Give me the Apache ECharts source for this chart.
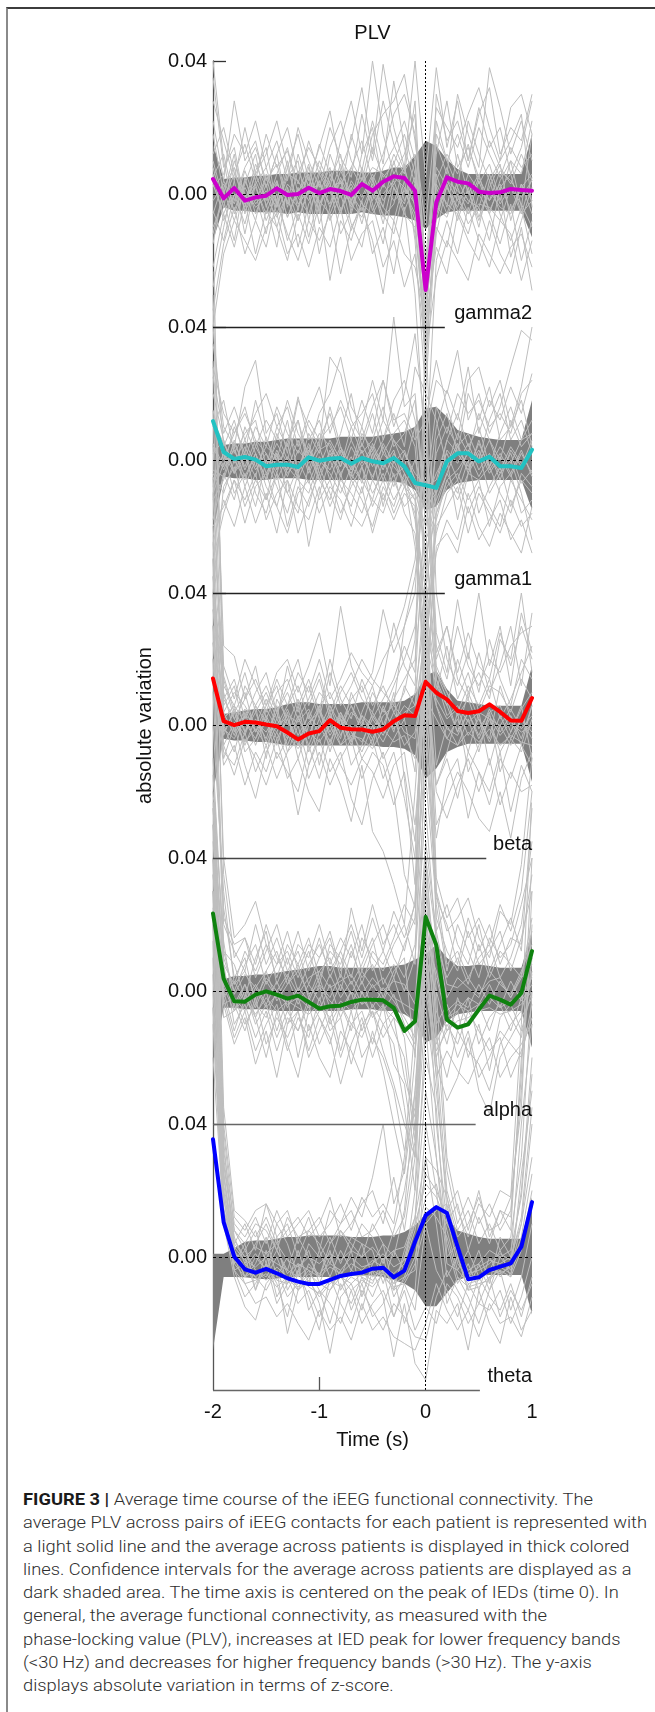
<!DOCTYPE html>
<html><head><meta charset="utf-8">
<script src="https://cdn.jsdelivr.net/npm/echarts@6/dist/echarts.min.js"></script>
<style>
html,body{margin:0;padding:0;background:#fff;}
#wrap{position:relative;width:655px;height:1712px;overflow:hidden;background:#fff;}
#frame{position:absolute;left:6px;top:7px;width:700px;height:1800px;border-top:2px solid #3c3c3c;border-left:2px solid #8a8a8a;}
#chart{position:absolute;left:0;top:0;width:655px;height:1470px;}
#caption{position:absolute;left:23px;top:1488px;font-family:Roboto,'Liberation Sans',Arial,sans-serif;font-weight:300;font-size:16.5px;line-height:23.3px;color:#2e2e2e;white-space:nowrap;transform-origin:0 0;}
#caption b{color:#1a1a1a;font-weight:700;}
</style></head><body>
<div id="wrap"><div id="frame"></div><div id="chart"></div><div id="caption"></div></div>
<script>
// ---------- DATA (values in units of 0.001 absolute variation) ----------
const UNIT = 0.001;
const times = [-2.0,-1.9,-1.8,-1.7,-1.6,-1.5,-1.4,-1.3,-1.2,-1.1,-1.0,-0.9,-0.8,-0.7,-0.6,-0.5,-0.4,-0.3,-0.2,-0.1,0.0,0.1,0.2,0.3,0.4,0.5,0.6,0.7,0.8,0.9,1.0];
const bands = ['gamma2','gamma1','beta','alpha','theta'];
const xTicks = [-2,-1,0,1];
const yTicks = [0,0.04];

const gamma2Mean = [4.5,-1.3,1.8,-2,-1,-0.5,1.7,-0.3,0,1.9,0.3,1.5,0.9,-0.3,3,1,3.7,5.3,4.8,1,-28.9,-2.5,5,3.7,3.2,0.7,0.3,0.5,1.5,1.2,1];
const gamma1Mean = [11.7,2.4,0.3,0.9,0.1,-1.9,-1.4,-1.4,-2.1,0.8,-0.2,0.4,0.6,-1.1,0.6,-0.4,-1,0.6,-1.9,-6.9,-7.6,-8.4,-0.4,2,2,-0.4,1,-1.9,-1.9,-2.4,3.1];
const betaMean = [14.2,1.3,0.1,1.1,0.9,0.3,-0.2,-2.1,-4.2,-2.4,-1.7,1.6,-0.7,-1.1,-1.2,-1.9,-1.2,1.3,3.1,2.9,13.2,9.9,7.9,4.4,3.8,4.3,6.4,4.1,1.5,1.4,8.3];
const alphaMean = [23.3,3.7,-3.1,-3.2,-1.1,-0.1,-1.1,-2.3,-1.4,-3.3,-5.3,-4.6,-4.4,-3.3,-2.6,-2.6,-2.8,-5.1,-12,-9.1,22.3,13.8,-8.6,-11,-10,-5.6,-1.4,-2.6,-4.1,-0.6,12];
const thetaMean = [35.4,10.5,0.1,-3.7,-4.7,-3.6,-4.9,-6.4,-7.4,-8.1,-8.1,-6.9,-5.7,-5.1,-4.7,-3.5,-3.2,-6.1,-4.1,4.6,12.5,15,13.2,3.1,-6.7,-6.1,-3.9,-2.9,-1.9,3.1,16.5];

const gamma2Upper = [15,4.5,5,5,5.5,5.5,6,6,6.5,6.5,6.5,7,7,7,6.5,6.5,7,8,8,11.4,16,14.4,10.4,7.5,6,6,6,6,6,6,18];
const gamma2Lower = [-14,-4,-5,-5,-5.5,-5.5,-5.5,-6,-5.5,-6,-6,-6,-6,-6,-5.5,-6,-6.5,-6.5,-7,-8,-10.5,-7.5,-5.5,-5,-5,-5,-5,-5,-5,-5,-13];
const gamma1Upper = [12,4.5,5,5,5.5,5.5,6,6.5,6.5,6.5,6.5,6.5,7,7,7,7,7.5,8,8.5,10,15.5,16,13,9,8,7,6.5,6,6,6,18];
const gamma1Lower = [-22,-5,-5.5,-5.5,-6,-6,-5.5,-5.5,-5.5,-6,-6,-6,-6,-6,-6,-6,-6.5,-6.5,-7,-9,-15,-14,-9,-7,-6.5,-6,-6,-6,-6,-6,-15];
const betaUpper = [14,3.5,4,4.5,5,5,5.5,6.5,7,7,6.5,6.5,6.5,6.5,7,7,7,7,7.5,9.5,15,16.5,11,7.5,7,6.5,6,6,6,6,18];
const betaLower = [-20,-4,-4.5,-4.5,-5,-5,-5.5,-6,-6,-6,-6,-6,-6,-6,-6,-6,-6.5,-6.5,-7,-9,-16,-13,-8,-6.5,-5.5,-5.5,-5.5,-5.5,-5.5,-5.5,-17];
const alphaUpper = [20,3.5,4.5,4.5,5,5,5.5,6,6.5,7,7.5,7.5,7,7,7,7,7,7.5,8,9.5,11,14,10,7.5,7.5,8,7.5,7,7,7,18];
const alphaLower = [-22,-5,-5,-5.5,-5.5,-5.5,-6,-6,-6,-6,-6,-6,-6,-5.5,-5.5,-5.5,-6,-6,-7,-9,-15.5,-14,-9,-7,-6.5,-6,-6,-6,-6,-6,-17];
const thetaUpper = [1,1,2.6,4.6,5,5,5.5,6,6,6.5,6.5,6.5,6.5,6,6,6,6.5,6.5,7.5,9.5,13,15.2,12,8,7,6,5.5,5.5,5.5,5.5,18];
const thetaLower = [-28,-6,-6,-6.1,-6.5,-6.7,-6.5,-6,-6,-6,-6,-6,-6,-5.6,-5.6,-5.6,-6,-6.9,-8,-10,-14.8,-14.8,-10.8,-7,-5.9,-5.6,-5.4,-5.4,-5.4,-5.4,-17.3];

const gamma2Patients = [
[35,8,14,-3,9,2,12,-4,7,0,10,3,-6,8,2,14,5,9,18,6,-55,4,12,6,15,3,9,-2,10,6,22],
[-28,-10,4,-12,3,-8,0,-14,-4,6,-9,2,-12,-5,8,-3,-15,2,-6,-10,-45,-12,3,-8,2,-10,4,-6,-14,-4,-18],
[12,20,6,15,4,18,8,13,3,16,6,20,11,5,24,10,28,15,7,12,-35,22,10,18,8,20,12,5,14,8,12],
[-10,-2,-14,5,-6,3,-10,1,-16,-3,4,-8,0,-11,-2,5,-7,-3,9,-14,-60,-6,2,-5,-12,0,-6,-15,-3,-20,-8],
[22,4,28,10,16,2,12,20,6,14,8,2,16,28,12,40,18,6,12,24,-45,30,16,22,10,26,14,20,6,14,28],
[-35,-15,-4,-18,-8,-16,-2,-12,-20,-8,-14,-6,-24,-10,-4,-14,-30,-8,-18,-22,-38,-16,-24,-6,-14,-20,-8,-18,-24,-10,-29],
[5,12,-2,8,14,4,9,-3,12,2,15,6,0,18,7,22,9,34,14,3,-25,12,28,8,14,5,16,8,3,12,4],
[-15,2,8,-5,0,-12,4,-7,2,-13,0,8,-5,2,-9,4,-4,10,-2,5,-50,-3,8,-2,4,-7,2,9,-8,3,-6],
[28,16,4,20,6,12,22,8,18,4,14,25,7,16,32,12,39,20,8,40,5,38,14,28,10,24,32,12,20,16,30],
[-22,-6,-16,-2,-18,-5,-10,-20,-6,-15,-3,-26,-8,-14,-2,-18,-10,-24,-4,-30,-80,-20,-8,-18,-4,-14,-22,-8,-12,-26,-14],
[8,-4,10,0,-8,6,-2,10,-5,8,-3,4,12,-6,5,-2,8,14,22,10,-40,6,-4,12,0,6,-6,4,10,-4,18],
[40,10,-6,3,12,-4,6,14,0,9,-6,12,3,8,16,4,12,24,30,18,-20,15,6,30,18,8,38,26,12,22,10],
[-5,-14,0,-9,4,-3,-16,2,-8,1,-18,-4,4,-9,-16,0,-6,-12,2,-8,-42,-10,-16,0,-9,-4,-14,2,-19,-8,2],
[18,0,12,-6,7,14,-4,5,10,-8,6,0,9,-3,12,20,2,12,6,28,-30,18,10,2,22,12,4,10,16,24,-4],
[-40,-18,-8,-14,-20,-10,-6,-18,-12,-22,-10,-16,-4,-20,-12,-8,-22,-14,-28,-18,-48,-25,-14,-20,-26,-12,-18,-24,-16,-12,-22],
[2,6,18,12,22,8,16,4,20,10,2,14,22,10,4,18,24,28,36,16,-10,26,20,14,24,32,20,10,26,30,18],
[3,-6,2,-4,6,-2,4,-7,1,5,-3,2,-6,4,-1,6,-2,3,8,-4,-28,-6,4,1,-3,5,-2,3,-5,2,6],
[-6,4,-3,7,-2,5,-6,3,-1,-6,4,-4,5,-2,7,-5,3,-2,1,-6,-32,2,-6,4,-2,-4,6,-3,2,-6,-2],
[10,-2,6,-1,3,8,-3,6,4,-2,7,1,4,-4,3,8,6,2,-3,10,-22,8,2,-4,6,1,-2,7,4,-1,4],
[-12,1,-8,2,-4,-1,-7,0,-4,3,-2,-6,2,-3,-7,2,-4,-8,4,-12,-36,-4,-7,2,-6,-3,-4,-8,2,-3,-10],
[6,-8,0,-2,2,-6,3,-2,-8,2,-5,6,-1,3,-3,-6,0,4,-5,3,-26,3,-3,-6,1,-8,1,-4,-6,3,-2],
[-2,3,-5,4,-3,1,-4,8,-3,1,3,-3,7,0,-5,3,-9,5,2,-3,-18,-8,4,-2,-6,4,-5,2,6,-6,5]
];
const gamma1Patients = [
[20,6,-4,10,2,-6,8,0,12,-3,6,14,2,-5,8,3,12,6,-2,10,-30,-8,6,14,4,10,-2,8,16,6,12],
[-18,-4,-12,2,-10,-16,-4,-20,-8,-14,-2,-10,-18,-6,-12,-20,-8,-14,-4,-18,-45,-22,-10,-6,-16,-8,-14,-20,-6,-12,-18],
[35,10,4,22,30,8,14,2,18,10,4,31,26,12,6,16,24,10,20,38,8,24,20,33,12,20,8,16,28,39,36],
[-8,2,-10,-4,-14,0,-8,-16,-4,-26,-10,0,-8,-14,-2,-10,-4,-12,-6,-26,-60,-14,-4,-10,0,-16,-8,-2,-14,-6,-10],
[28,14,8,16,4,12,6,18,8,2,14,20,31,16,10,24,12,43,16,20,-15,10,21,12,28,8,18,12,22,14,26],
[-25,-12,-20,-8,-19,-10,-22,-6,-14,-18,-8,-22,-4,-16,-20,-12,-16,-6,-14,-10,-52,-28,-18,-24,-10,-20,-26,-16,-22,-28,-14],
[10,18,2,8,12,-2,10,4,19,6,12,0,8,20,4,14,2,8,12,4,-35,6,14,2,20,12,22,6,10,18,4],
[-12,-6,4,-8,0,-12,2,-10,-2,4,-6,-12,0,-4,-10,2,-14,0,-8,-16,-40,-10,0,-18,-4,2,-10,-4,0,-10,-24],
[40,4,12,0,10,4,16,8,2,12,6,10,16,6,18,8,24,12,14,6,12,30,16,6,24,28,16,24,10,22,40],
[-30,-16,-6,-19,-8,-4,-14,-22,-10,-6,-16,-8,-12,-20,-8,-22,-10,-18,-10,-14,-70,-26,-22,-28,-14,-24,-18,-12,-24,-18,-28],
[15,0,8,14,6,2,-4,6,12,0,8,4,-2,10,2,6,16,4,8,18,-20,2,10,4,8,0,12,20,6,12,2],
[-4,-10,0,-6,2,-8,-14,-2,-6,-10,0,-4,-10,-2,-6,-12,0,-8,2,-6,-28,-18,-6,-12,-4,-6,-2,-10,-16,-4,-8],
[25,8,16,6,14,20,10,16,4,14,22,8,18,10,14,20,6,18,24,12,-10,16,8,20,14,18,10,14,8,20,24],
[-20,-14,-6,-12,-4,-18,-10,-6,-22,-12,-4,-14,-6,-10,-16,-6,-12,-4,-16,-22,-55,-20,-14,-8,-22,-10,-16,-22,-12,-20,-16],
[5,-2,10,2,18,6,0,12,-4,8,2,16,4,-2,10,0,6,14,4,28,20,12,-2,8,2,14,6,0,12,4,8],
[-40,-8,-2,-14,-6,-12,-4,-10,-16,-2,-12,-6,-16,-8,-2,-14,-6,-16,-8,-12,-80,-16,-8,-4,-12,-6,-20,-8,-4,-16,-12],
[4,-3,5,-2,6,-4,2,-5,3,-1,4,-6,3,-3,5,-2,4,-5,-2,-8,-14,-10,3,-1,5,-3,2,-6,3,-2,6],
[-6,2,-4,4,-3,2,-6,1,-3,5,-4,2,-5,4,-2,3,-6,2,-4,-10,-20,-12,-4,4,-2,3,-4,1,-5,2,-4],
[12,5,-1,6,-2,4,1,-3,6,-4,3,5,-2,6,-1,4,-3,6,2,-4,-8,-6,6,2,-3,5,-2,4,-1,6,8],
[-10,-1,3,-5,2,-6,3,-4,0,-7,1,-3,4,-6,1,-5,2,-2,-6,-12,-24,-16,-6,-3,2,-5,1,-4,2,-7,-3],
[2,6,-4,1,-5,7,-3,5,-6,2,-6,3,-4,1,-7,5,-2,3,-8,0,-12,-4,2,-6,3,-1,6,-3,4,-1,2],
[-3,-5,6,-3,4,-2,5,-1,-4,3,-2,6,0,-4,3,-6,5,-1,3,-6,-16,-8,-2,5,-4,6,-3,2,-4,3,-5]
];
const betaPatients = [
[60,15,4,10,-2,6,12,0,8,-4,6,10,2,-6,4,12,0,8,14,20,55,18,10,4,12,6,14,2,8,16,24],
[30,-6,-15,-4,-10,-18,-8,-14,-20,-6,-16,-4,-12,-18,-10,-14,-22,-12,-8,-30,10,-18,-10,-22,-8,-14,-24,-10,-16,-6,-12],
[110,24,21,8,14,6,16,20,10,18,28,12,36,18,10,16,35,22,30,40,90,28,16,38,20,40,18,30,12,34,22],
[20,-10,0,-12,-22,-8,-2,-10,-27,-12,-4,-14,-8,-22,-30,-16,-8,-20,-45,-55,5,-34,-16,-10,-28,-14,-20,-8,-26,-12,-20],
[85,8,14,2,10,16,4,12,20,6,14,2,10,16,8,4,14,31,18,12,70,20,30,14,8,22,10,18,30,12,34],
[40,0,-8,4,-6,2,-10,-4,6,-8,0,-6,4,-2,-8,0,-10,-4,2,-14,40,6,-4,2,-8,4,-12,0,-6,2,-4],
[130,12,6,16,4,10,2,18,6,14,4,20,8,2,14,6,12,4,10,26,100,14,6,20,10,16,8,26,20,40,16],
[15,-12,-6,-18,-8,-14,-4,-16,-10,-20,-26,-10,-18,-29,-12,-32,-38,-48,-60,-20,25,-30,-22,-14,-20,-28,-32,-20,-34,-16,-8],
[70,6,12,-2,6,12,4,10,2,8,16,4,12,6,0,10,4,12,20,30,60,10,24,8,16,4,12,10,4,14,8],
[50,-2,4,-6,2,-4,6,-8,0,-12,-2,4,-6,0,-10,-4,-16,-8,-22,-40,35,-12,0,-6,2,-8,4,-14,-4,-8,2],
[95,18,8,20,12,4,14,6,16,10,20,8,14,22,16,12,20,26,36,50,85,24,14,30,18,12,20,16,24,28,30],
[25,-8,-12,-2,-14,-6,-16,-8,-4,-16,-8,-18,-10,-4,-16,-8,-12,-24,-14,-35,15,-20,-28,-18,-10,-20,-10,-24,-14,-20,-18],
[150,4,10,6,0,8,0,6,12,2,10,6,0,8,12,2,8,14,24,16,120,40,20,12,22,10,26,14,6,20,14],
[45,10,-2,12,6,-10,8,2,-6,4,-12,2,-4,10,2,-6,6,-2,12,6,45,16,8,-2,10,2,-4,12,2,-6,6],
[75,2,6,-8,-4,2,-6,4,-10,0,6,-8,2,-12,-6,4,-2,10,-16,-48,20,-18,-8,4,-14,-6,2,-8,-2,6,-10],
[35,14,2,8,18,2,10,14,4,12,2,16,6,12,20,14,10,6,30,45,75,22,30,16,28,18,14,28,18,30,20],
[40,4,-3,5,-2,3,-4,2,-5,1,4,-3,2,-5,3,-2,5,-1,4,6,25,12,6,-2,4,-3,5,-2,3,-4,6],
[30,-3,5,-2,4,-5,2,-4,3,-6,2,-5,3,-2,-5,2,-3,4,-2,-4,15,8,2,5,-3,2,-5,3,-4,2,-2],
[55,8,2,-3,6,1,-2,5,-3,3,-1,6,-3,4,1,-4,3,6,2,10,35,16,10,3,8,-1,4,6,-2,5,10],
[25,-6,1,-5,-1,-6,0,-3,-7,-2,-5,0,-6,-3,-4,-7,-1,-5,-3,-10,8,2,-4,-6,-2,-5,-1,-6,-3,-5,-6],
[45,2,6,1,-4,5,-1,3,1,5,-3,3,-1,6,-2,3,-2,1,6,3,30,14,3,6,1,4,2,0,5,-1,3],
[35,-1,-4,3,1,-2,4,-6,2,-3,5,-2,4,-4,3,0,-5,2,-6,-2,18,6,-1,-3,4,-4,3,-3,1,-2,0]
];
const alphaPatients = [
[90,25,4,10,-4,6,12,2,8,-2,6,10,0,12,4,8,-2,6,10,-20,80,30,8,12,4,10,14,4,10,20,45],
[50,8,-10,-4,-14,-6,-18,-8,-12,-4,-16,-8,-20,-10,-14,-6,-18,-28,-40,-50,20,-14,-26,-12,-18,-22,-30,-16,-10,-6,5],
[130,40,16,20,27,14,8,18,6,14,10,16,4,25,12,26,14,20,12,27,110,30,18,22,28,16,10,24,20,38,70],
[35,-4,-16,-8,-22,-12,-26,-10,-6,-18,-8,-14,-28,-16,-8,-20,-10,-16,-35,-60,15,-22,-33,-26,-14,-30,-37,-20,-14,-8,-2],
[110,12,8,-2,10,18,2,10,0,8,14,6,12,4,16,10,6,14,20,8,95,22,12,6,18,8,12,18,6,16,30],
[60,15,-6,2,-8,0,-12,-2,-20,-6,2,-10,-4,-12,0,-8,-4,-12,-20,-45,35,-10,-4,-12,-2,-16,-8,-4,-12,-2,10],
[80,30,2,12,6,14,4,14,8,16,4,12,8,18,6,14,20,10,4,14,65,26,6,20,12,4,16,10,14,26,40],
[40,-2,-14,-6,-18,-10,-4,-16,-26,-10,-20,-26,-12,-18,-26,-12,-24,-40,-55,-30,10,-26,-18,-24,-28,-20,-14,-26,-20,-16,-10],
[120,20,12,6,20,8,16,6,12,2,10,18,6,14,2,12,8,16,26,20,120,18,26,14,8,20,6,14,22,12,55],
[45,2,-4,-12,-2,-16,-8,-14,-6,-20,-12,-4,-18,-6,-20,-14,-20,-30,-48,-35,25,-16,-8,-20,-12,-26,-20,-12,-16,-20,-4],
[100,22,14,16,8,20,10,4,14,10,20,8,16,10,20,6,12,4,14,22,75,28,20,8,22,12,20,8,16,14,35],
[30,-8,-6,0,-10,-4,-14,-6,-12,-2,-8,-16,-4,-10,-6,-16,-4,-22,-28,-50,8,-18,-12,-6,-20,-10,-24,-8,-4,-12,0],
[70,10,0,8,14,2,8,12,4,12,2,14,10,2,8,16,2,8,0,10,55,14,4,10,2,14,4,12,8,4,22],
[55,5,-2,-10,-4,-8,0,-10,-2,-12,-6,2,-8,0,-12,-4,-10,-6,-14,-42,40,-6,-16,-2,-10,-4,-12,-2,-8,-14,6],
[140,35,10,16,4,12,20,8,18,6,16,4,12,20,10,22,12,24,16,26,130,34,22,28,16,22,14,26,18,30,60],
[25,0,-12,-2,-8,-20,-6,-18,-8,-14,-2,-12,-8,-22,-10,-6,-14,-8,-26,-38,0,-20,-10,-16,-6,-12,-18,-14,-26,-18,-8],
[50,6,-4,2,-5,3,-2,4,-4,2,-3,5,-2,3,-4,2,-3,4,-6,-10,30,10,-6,-3,-5,2,-4,3,-2,4,8],
[35,-2,3,-3,2,-4,3,-5,1,-3,4,-5,2,-4,3,-5,1,-3,-8,-14,20,4,-8,-6,-2,-4,2,-5,3,-3,2],
[65,12,-1,5,1,6,-3,2,6,-1,2,-2,5,-1,6,1,4,-2,-4,-6,40,16,-2,4,1,-2,6,2,-1,6,14],
[40,1,-6,-2,-7,-2,-6,-3,-5,-7,-4,-8,-3,-6,-2,-7,-5,-8,-12,-18,10,0,-12,-9,-8,-6,-5,-7,-6,-4,0],
[55,8,2,6,-2,4,0,5,-1,4,6,1,3,5,-1,4,0,3,2,-4,45,18,2,1,4,-1,3,4,-2,5,18],
[30,-4,-2,-6,1,-5,-1,-4,-2,-5,1,-3,-6,0,-4,-2,-6,-1,-10,-16,15,6,-8,-4,-6,-4,-2,-5,-3,-2,4]
];
const thetaPatients = [
[150,30,6,-2,4,10,2,-4,6,0,-6,4,8,2,10,6,-2,8,20,40,90,60,20,8,14,4,10,2,6,30,80],
[90,15,-4,-12,-8,-2,-14,-8,-2,-16,-10,-20,-8,-14,-6,-12,-4,-18,-10,-22,-15,-20,-8,-12,-20,-14,-6,-18,-10,-16,-8],
[150,40,12,8,14,16,10,14,4,12,2,14,10,18,12,24,40,16,26,60,120,80,30,14,6,16,12,20,18,45,110],
[70,10,-6,-15,-19,-8,-4,-23,-10,-6,-14,-29,-12,-8,-16,-4,-12,-30,-14,-32,-37,-16,-20,-14,-28,-10,-20,-26,-12,-22,-16],
[120,25,4,10,2,16,6,10,0,8,4,-2,8,4,0,10,4,0,14,50,100,40,10,16,2,12,4,14,8,60,90],
[140,35,2,-6,0,-4,6,-10,-4,2,-8,0,-6,2,-12,-2,4,-10,2,10,70,30,4,-8,-2,-10,0,-6,-2,20,60],
[60,12,-2,4,-10,2,-12,-6,-14,-10,-18,-10,-4,-16,-8,-18,-14,-6,-20,-10,30,10,-14,-6,-12,-20,-10,-4,-16,-6,10],
[160,45,14,11,6,12,4,8,12,6,10,18,6,10,16,20,10,24,8,30,75,50,18,6,10,18,8,10,18,70,140],
[100,20,0,-8,-14,-12,-18,-14,-20,-25,-16,-22,-18,-25,-14,-22,-18,-24,-26,-28,-20,-8,-16,-22,-16,-24,-14,-20,-18,-24,-12],
[140,28,8,2,8,-2,10,4,-6,4,0,6,-2,6,4,2,-8,2,-4,20,60,45,0,4,-6,2,-8,6,0,40,70],
[80,18,-4,-2,-6,-10,-4,-12,-8,-4,-10,-14,-20,-10,-20,-14,-10,-18,-8,-16,10,-4,-10,-18,-8,-14,-16,-10,-20,-12,0],
[160,32,10,6,12,4,14,6,10,14,6,10,16,8,18,12,16,10,30,70,110,70,26,10,18,10,16,8,14,50,100],
[110,22,2,-6,-2,6,-6,0,-10,-2,-6,2,-10,-4,-6,-8,0,-12,-6,-4,40,20,-6,0,-10,-2,-10,0,-4,10,30],
[75,14,4,0,-10,-2,-8,-18,-4,-12,-22,-6,-14,-20,-10,-16,-22,-14,-18,-24,-25,-12,-4,-10,-16,-6,-12,-16,-8,-18,-6],
[150,38,8,4,10,8,2,12,6,8,12,4,10,14,6,8,14,6,12,35,85,55,14,20,8,20,6,14,12,55,120],
[130,26,-2,2,-4,-6,0,-8,2,-8,2,-6,2,-4,4,-6,-4,-8,0,12,50,30,-2,-4,2,-6,-4,2,-6,25,50],
[100,20,2,-3,1,-4,2,-5,-2,-4,-6,-3,-5,-2,-4,-1,-3,-5,-2,8,25,20,12,-2,-6,-3,-1,-2,0,10,40],
[85,14,-2,-6,-4,-7,-3,-6,-9,-5,-8,-10,-6,-8,-5,-7,-4,-8,-6,4,18,22,8,-4,-8,-7,-4,-5,-3,6,25],
[120,28,5,0,3,1,4,-1,-3,0,-2,1,-1,2,0,3,-1,2,3,12,30,26,18,2,-4,-2,2,0,2,18,55],
[95,18,0,-4,-6,-3,-7,-8,-5,-9,-11,-7,-9,-6,-8,-4,-6,-9,-8,-2,10,14,16,0,-10,-9,-6,-4,-6,2,20],
[110,24,3,-1,-3,0,-2,-4,-6,-3,-5,-2,-4,0,-3,-2,1,-3,-1,10,22,18,10,4,-5,-4,-2,1,-1,12,45],
[75,12,-4,-8,-7,-5,-9,-6,-10,-7,-12,-8,-6,-10,-7,-9,-5,-10,-7,0,15,12,6,-6,-9,-8,-7,-3,-5,4,15]
];

const captionBold = 'FIGURE 3 |';
const captionLines = [
' Average time course of the iEEG functional connectivity. The',
'average PLV across pairs of iEEG contacts for each patient is represented with',
'a light solid line and the average across patients is displayed in thick colored',
'lines. Confidence intervals for the average across patients are displayed as a',
'dark shaded area. The time axis is centered on the peak of IEDs (time 0). In',
'general, the average functional connectivity, as measured with the',
'phase-locking value (PLV), increases at IED peak for lower frequency bands',
'(<30\u2009Hz) and decreases for higher frequency bands (>30\u2009Hz). The y-axis',
'displays absolute variation in terms of z-score.'
];

// ---------- STYLE / LAYOUT ----------
const FONT = "'Liberation Sans', Arial, Helvetica, sans-serif";
const meanColors = ['#cc00cc','#22c2c2','#ff0000','#0f820f','#0000ff'];
const sepColors = ['#222','#222','#444','#666','#666'];
const sepEnds = [0.18,0.18,0.57,0.47,0.51];
const GRID_LEFT = 213, GRID_W = 319, GRID_TOP0 = 61, GRID_STEP = 265.75;

const bandSets = [
  {mean:gamma2Mean, up:gamma2Upper, lo:gamma2Lower, pts:gamma2Patients},
  {mean:gamma1Mean, up:gamma1Upper, lo:gamma1Lower, pts:gamma1Patients},
  {mean:betaMean, up:betaUpper, lo:betaLower, pts:betaPatients},
  {mean:alphaMean, up:alphaUpper, lo:alphaLower, pts:alphaPatients},
  {mean:thetaMean, up:thetaUpper, lo:thetaLower, pts:thetaPatients}
];
const toPts = arr => arr.map((v,i)=>[times[i], v*UNIT]);

const grids=[], xAxes=[], yAxes=[], series=[];
const txt = {fontFamily:FONT, fontSize:20, color:'#111'};
bandSets.forEach((b,k)=>{
  const top = Math.round(GRID_TOP0 + k*GRID_STEP);
  const bot = Math.round(GRID_TOP0 + (k+1)*GRID_STEP);
  grids.push({left:GRID_LEFT, width:GRID_W, top:top, height:bot-top});
  const last = k===bands.length-1;
  xAxes.push({
    gridIndex:k, type:'value', min:-2, max:1, interval:1,
    position: k===0 ? 'top' : 'bottom',
    axisLine:{show:false, onZero:false}, splitLine:{show:false},
    axisTick: last ? {show:true, inside:true, length:13, customValues:[-1], lineStyle:{color:'#555', width:1.3}} : {show:false},
    axisLabel: last ? Object.assign({show:true, margin:12, customValues:xTicks}, txt) : {show:false},
    name: k===0 ? 'PLV' : (last ? 'Time (s)' : ''),
    nameLocation:'middle', nameGap: k===0 ? 18 : 40,
    nameTextStyle: txt
  });
  yAxes.push({
    gridIndex:k, type:'value', min:-0.04, max:0.04, interval:0.04,
    axisLine:{show:true, onZero:false, lineStyle:{color:'#555', width:1.3}},
    axisTick:{show:true, inside:true, length:13, customValues:[0.04], lineStyle:{color:'#333', width:1.3}},
    axisLabel: Object.assign({margin:6, customValues:yTicks, formatter: v => v < -1e-6 ? '' : v.toFixed(2)}, txt),
    splitLine:{show:false},
    name: k===2 ? 'absolute variation' : '', nameLocation:'middle', nameRotate:90, nameGap:58,
    nameTextStyle: txt
  });
  const ax = {xAxisIndex:k, yAxisIndex:k, symbol:'none', silent:true, animation:false};
  // confidence band (filled from 0 to upper and from 0 to lower)
  [b.up, b.lo].forEach(arr=>{
    series.push(Object.assign({type:'line', data:toPts(arr), z:1,
      lineStyle:{width:0, opacity:0}, areaStyle:{color:'#7f7f7f', opacity:1}}, ax));
  });
  // per-patient light lines
  b.pts.forEach(p=>{
    series.push(Object.assign({type:'line', data:toPts(p), z:2, clip:false,
      lineStyle:{color:'#bebebe', width:1}}, ax));
  });
  // reference lines, separator and band label
  series.push(Object.assign({type:'line', data:toPts(b.mean), z:3, lineStyle:{opacity:0, width:0},
    markLine:{silent:true, animation:false, symbol:['none','none'], label:{show:false}, z:4,
      data:[
        {yAxis:0, lineStyle:{type:[3,3], color:'#000', width:1}},
        {xAxis:0, lineStyle:{type:[2,2], color:'#000', width:1}},
        [{coord:[-2,-0.04], lineStyle:{type:'solid', color:sepColors[k], width:1.3}},
         {coord:[sepEnds[k],-0.04], lineStyle:{type:'solid', color:sepColors[k], width:1.3}}]
      ]},
    markPoint:{silent:true, animation:false, symbol:'rect', symbolSize:1, itemStyle:{color:'rgba(0,0,0,0)'},
      label:Object.assign({show:true, position:'top', align:'right', distance:3, formatter:'{b}'}, txt),
      data:[{name:bands[k], coord:[1,-0.04]}]}
  }, ax));
  // across-patient mean
  series.push(Object.assign({type:'line', data:toPts(b.mean), z:6, clip:false,
    lineStyle:{color:meanColors[k], width:4, cap:'round', join:'round'}}, ax));
});

const chart = echarts.init(document.getElementById('chart'));
chart.setOption({animation:false, backgroundColor:'rgba(0,0,0,0)', grid:grids, xAxis:xAxes, yAxis:yAxes, series:series});

// caption
const cap = document.getElementById('caption');
captionLines.forEach((t,i)=>{
  const d = document.createElement('div');
  if(i===0){ const bb=document.createElement('b'); bb.textContent=captionBold; d.appendChild(bb); }
  d.appendChild(document.createTextNode(t));
  d.style.display='inline-block';
  cap.appendChild(d);
  cap.appendChild(document.createElement('br'));
});
const w = cap.children[2].getBoundingClientRect().width;
cap.style.transform = 'scaleX(' + (624 / w) + ')';
</script>
</body></html>
